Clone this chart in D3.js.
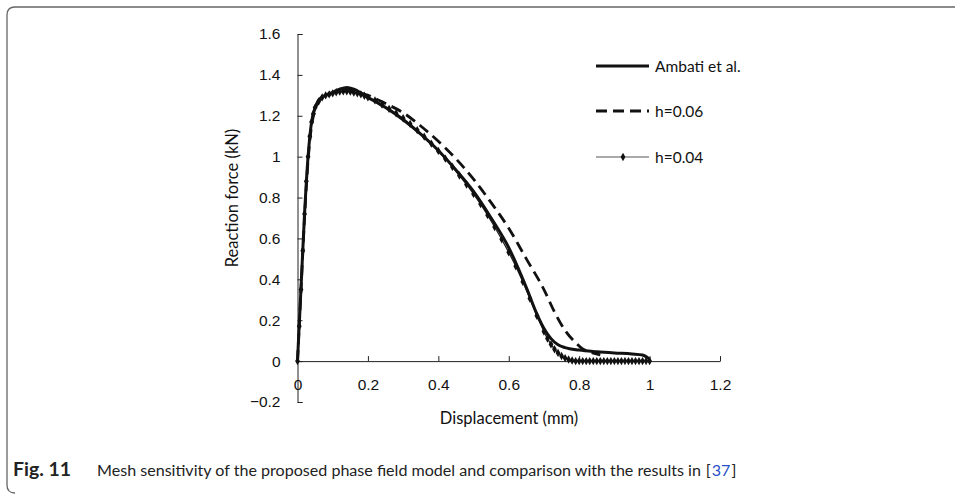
<!DOCTYPE html>
<html>
<head>
<meta charset="utf-8">
<script src="https://cdn.jsdelivr.net/npm/d3@7"></script>
<style>
  body { margin: 0; background: #fff; }
  svg { display: block; font-family: Lato, 'Open Sans', sans-serif; }
</style>
</head>
<body>
<svg id="chart" width="955" height="495"></svg>
<script>
// values (displacement in mm, reaction force in kN)
var ambatiDisp = [0, 0.01, 0.02, 0.03, 0.04, 0.05, 0.06, 0.08, 0.1, 0.12, 0.14, 0.16, 0.2, 0.25, 0.3, 0.35, 0.4, 0.45, 0.5, 0.55, 0.6, 0.65, 0.68, 0.7, 0.72, 0.74, 0.76, 0.8, 0.85, 0.9, 0.95, 0.98, 1.0]
var ambatiForce = [0, 0.36, 0.72, 1.0, 1.17, 1.24, 1.275, 1.3, 1.315, 1.33, 1.338, 1.33, 1.29, 1.24, 1.18, 1.11, 1.03, 0.935, 0.83, 0.7, 0.555, 0.36, 0.23, 0.16, 0.11, 0.08, 0.066, 0.054, 0.046, 0.04, 0.035, 0.03, 0.01]

var h06Disp = [0, 0.01, 0.02, 0.03, 0.04, 0.05, 0.06, 0.08, 0.1, 0.12, 0.14, 0.16, 0.2, 0.25, 0.3, 0.35, 0.4, 0.45, 0.5, 0.55, 0.6, 0.65, 0.7, 0.73, 0.76, 0.79, 0.81, 0.83, 0.86]
var h06Force = [0, 0.35, 0.7, 0.98, 1.15, 1.23, 1.27, 1.295, 1.31, 1.32, 1.325, 1.32, 1.3, 1.26, 1.215, 1.15, 1.075, 0.99, 0.89, 0.775, 0.65, 0.5, 0.35, 0.24, 0.15, 0.09, 0.06, 0.045, 0.03]

var h04Disp = [0, 0.005, 0.01, 0.015, 0.02, 0.025, 0.03, 0.035, 0.04, 0.045, 0.05, 0.06, 0.07, 0.08, 0.09, 0.1, 0.11, 0.12, 0.13, 0.14, 0.15, 0.16, 0.17, 0.18, 0.19, 0.2,
  0.22, 0.24, 0.26, 0.28, 0.3, 0.32, 0.34, 0.36, 0.38, 0.4, 0.42, 0.44, 0.46, 0.48, 0.5, 0.52, 0.54, 0.56, 0.58, 0.6, 0.62, 0.64, 0.66, 0.68, 0.7,
  0.71, 0.72, 0.73, 0.74, 0.75, 0.76, 0.77, 0.78, 0.79, 0.8, 0.81, 0.82, 0.83, 0.84, 0.85, 0.86, 0.87, 0.88, 0.89, 0.9, 0.91, 0.92, 0.93, 0.94, 0.95, 0.96, 0.97, 0.98, 0.99, 1.0]
var h04Force = [0, 0.17, 0.35, 0.54, 0.72, 0.88, 1.0, 1.1, 1.17, 1.21, 1.24, 1.27, 1.29, 1.3, 1.305, 1.31, 1.315, 1.318, 1.32, 1.32, 1.318, 1.314, 1.31, 1.305, 1.298, 1.29,
  1.275, 1.255, 1.234, 1.212, 1.188, 1.16, 1.13, 1.098, 1.064, 1.028, 0.99, 0.95, 0.908, 0.864, 0.818, 0.768, 0.714, 0.656, 0.596, 0.532, 0.464, 0.388, 0.306, 0.222, 0.145,
  0.11, 0.082, 0.058, 0.04, 0.025, 0.015, 0.008, 0.003, 0, 0, 0, 0, 0, 0, 0, 0, 0, 0, 0, 0, 0, 0, 0, 0, 0, 0, 0, 0, 0, 0]

var xTicks = [0, 0.2, 0.4, 0.6, 0.8, 1, 1.2]
var yTicks = [-0.2, 0, 0.2, 0.4, 0.6, 0.8, 1, 1.2, 1.4, 1.6]
var legendNames = ['Ambati et al.', 'h=0.06', 'h=0.04']

function pairs(xs, ys) {
  return xs.map(function (d, i) { return [d, ys[i]] })
}

var svg = d3.select('#chart')

// figure frame, rounded at the left corners
svg.append('path')
  .attr('d', 'M955,7H15Q7,7 7,15V485Q7,493 15,493')
  .attr('fill', 'none')
  .attr('stroke', '#666')
  .attr('stroke-width', 1.3)

var x = d3.scaleLinear().domain([0, 1.2]).range([297.5, 720])
var y = d3.scaleLinear().domain([-0.2, 1.6]).range([402, 34])

// y axis, ticks pointing inwards
var yAxis = svg.append('g')
  .attr('transform', 'translate(' + x(0) + ',0)')
  .call(d3.axisLeft(y).tickValues(yTicks).tickSize(-5).tickSizeOuter(-5).tickPadding(17)
    .tickFormat(d3.format('~g')))
yAxis.selectAll('text').attr('font-size', 15.5).attr('fill', '#111').attr('font-family', null)
yAxis.selectAll('line, path').attr('stroke', '#222')

// x axis sits at zero force
var xAxis = svg.append('g')
  .attr('transform', 'translate(0,' + y(0) + ')')
  .call(d3.axisBottom(x).tickValues(xTicks).tickSize(-5).tickSizeOuter(0).tickPadding(18)
    .tickFormat(d3.format('~g')))
xAxis.selectAll('text').attr('font-size', 15.5).attr('fill', '#111').attr('font-family', null)
xAxis.selectAll('line, path').attr('stroke', '#222')

svg.append('text')
  .attr('transform', 'translate(238,198) rotate(-90)')
  .attr('text-anchor', 'middle')
  .attr('font-size', 16.5)
  .attr('fill', '#111')
  .text('Reaction force (kN)')

svg.append('text')
  .attr('x', 509)
  .attr('y', 424)
  .attr('text-anchor', 'middle')
  .attr('font-size', 16.5)
  .attr('fill', '#111')
  .text('Displacement (mm)')

var smooth = d3.line().x(d => x(d[0])).y(d => y(d[1])).curve(d3.curveMonotoneX)
var plain = d3.line().x(d => x(d[0])).y(d => y(d[1]))

// h=0.04 thin line with diamond markers
var h04 = pairs(h04Disp, h04Force)
svg.append('path')
  .attr('d', plain(h04))
  .attr('fill', 'none')
  .attr('stroke', '#222')
  .attr('stroke-width', 1.3)

svg.append('g').selectAll('path')
  .data(h04)
  .enter()
  .append('path')
  .attr('d', d3.symbol().type(d3.symbolDiamond).size(20))
  .attr('transform', d => 'translate(' + x(d[0]) + ',' + y(d[1]) + ')')
  .attr('fill', '#111')

// Ambati et al.
svg.append('path')
  .attr('d', smooth(pairs(ambatiDisp, ambatiForce)))
  .attr('fill', 'none')
  .attr('stroke', '#111')
  .attr('stroke-width', 3)

// h=0.06 dashed
svg.append('path')
  .attr('d', smooth(pairs(h06Disp, h06Force)))
  .attr('fill', 'none')
  .attr('stroke', '#111')
  .attr('stroke-width', 2.8)
  .attr('stroke-dasharray', '11,6')

// legend
var legend = svg.append('g').attr('transform', 'translate(596,0)')
var rows = [66, 111, 157]

legendNames.forEach(function (name, i) {
  var row = legend.append('g').attr('transform', 'translate(0,' + rows[i] + ')')
  var ln = row.append('line')
    .attr('x1', 0).attr('x2', 53)
    .attr('stroke', i === 2 ? '#555' : '#111')
    .attr('stroke-width', i === 2 ? 1 : 2.8)
  if (i === 1) ln.attr('stroke-dasharray', '11,6')
  if (i === 2) {
    row.append('path')
      .attr('d', d3.symbol().type(d3.symbolDiamond).size(20))
      .attr('transform', 'translate(27,0)')
      .attr('fill', '#111')
  }
  row.append('text')
    .attr('x', 59)
    .attr('y', 5.5)
    .attr('font-size', 15.5)
    .attr('fill', '#111')
    .text(name)
})

// caption: shrink the font until the line fits the width seen in the figure
function fitText(sel, width) {
  var len = sel.node().getComputedTextLength()
  var fs = +sel.attr('font-size')
  sel.attr('font-size', (fs * width / len).toFixed(2))
  return sel.node().getComputedTextLength()
}

var fig = svg.append('text')
  .attr('x', 13)
  .attr('y', 476)
  .attr('font-size', 17)
  .attr('font-weight', 'bold')
  .attr('fill', '#222')
  .text('Fig. 11')
fitText(fig, 58)

var cap = svg.append('text')
  .attr('x', 97)
  .attr('y', 476)
  .attr('font-size', 16.5)
  .attr('fill', '#222')
  .text('Mesh sensitivity of the proposed phase field model and comparison with the results in')
var capLen = fitText(cap, 604)
var capSize = +cap.attr('font-size')

// citation pieces placed one after another
var refX = 97 + capLen + 5
;[['[', '#222'], ['37', '#2a4fc8'], [']', '#222']].forEach(function (p) {
  var t = svg.append('text')
    .attr('x', refX)
    .attr('y', 476)
    .attr('font-size', capSize)
    .attr('fill', p[1])
    .text(p[0])
  refX += t.node().getComputedTextLength() + 1
})
</script>
</body>
</html>
